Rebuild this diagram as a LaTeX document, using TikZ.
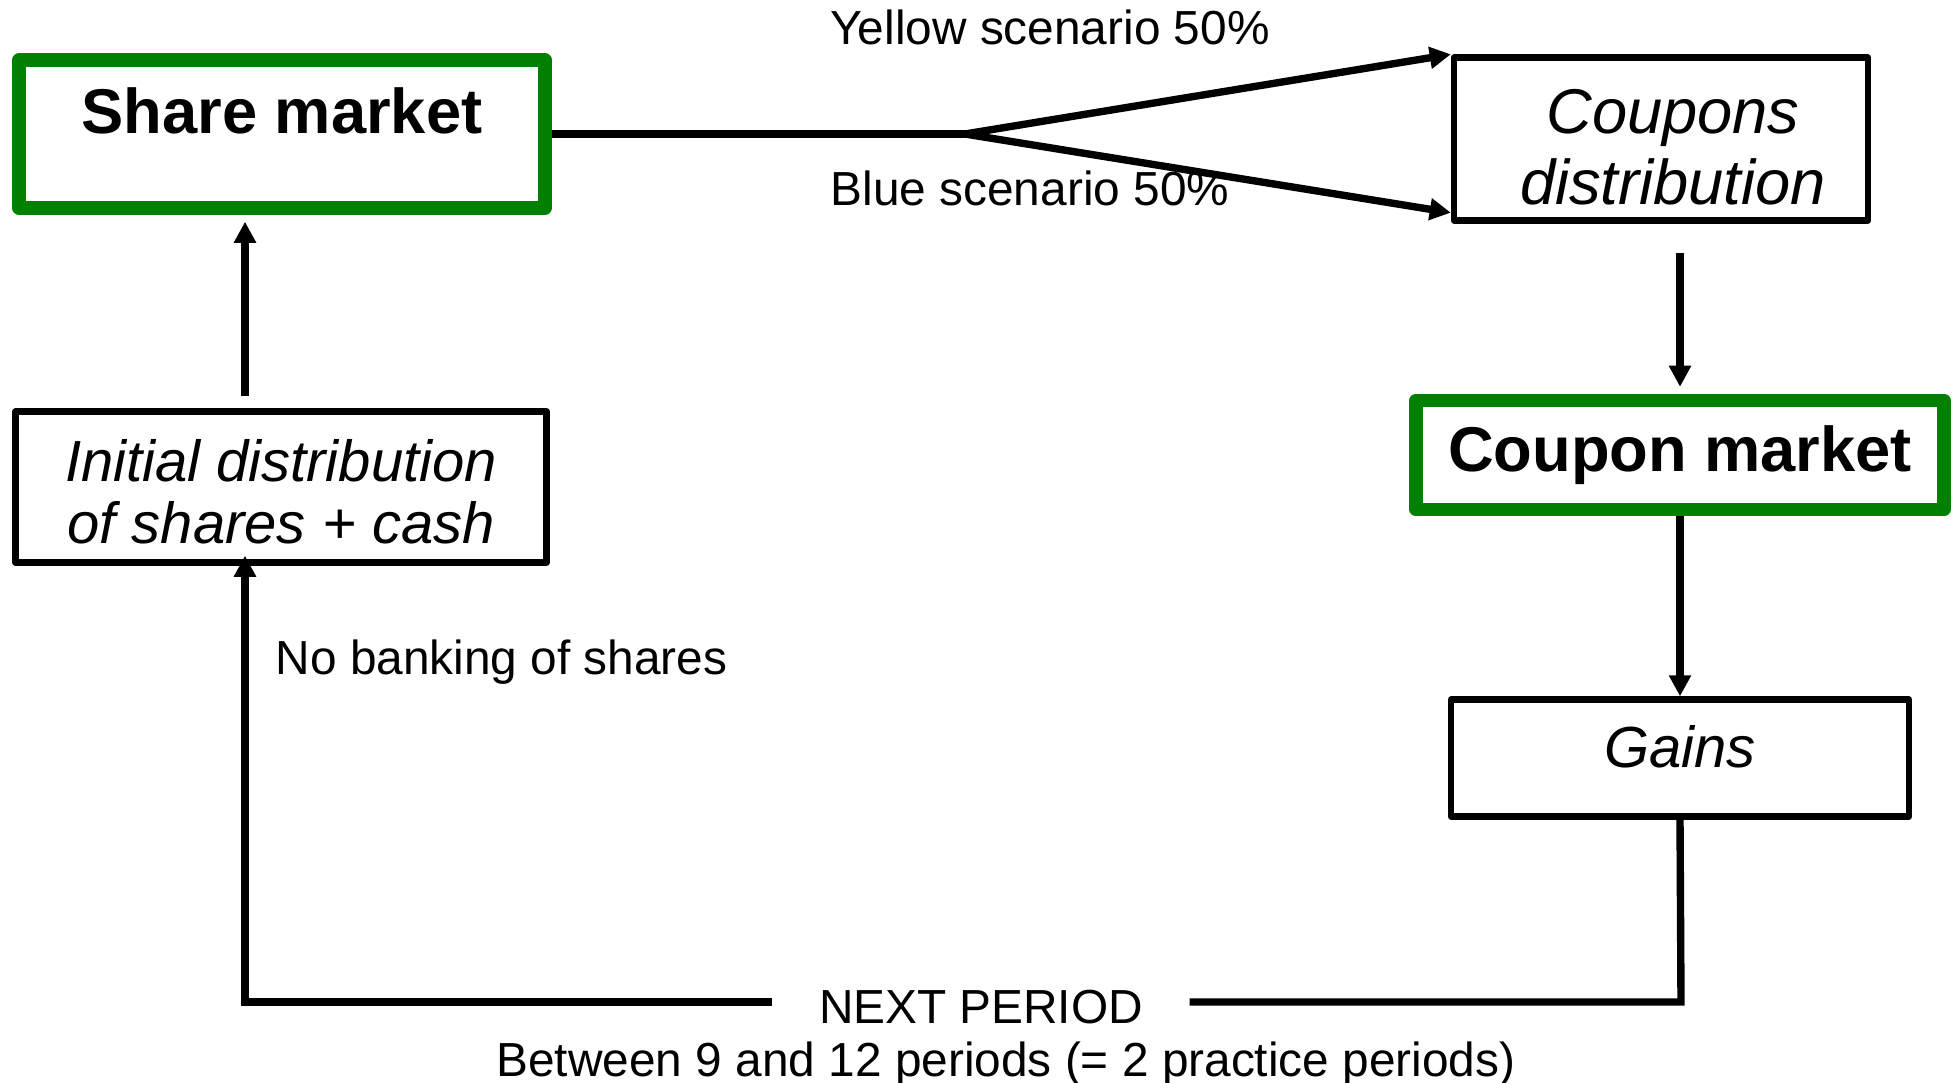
\documentclass[tikz,border=0pt]{standalone}
\usepackage{fontspec}
\setmainfont{Liberation Sans}
\usepackage{tikz}
\usetikzlibrary{positioning}
\usetikzlibrary{calc}
\usetikzlibrary{arrows.meta}
\definecolor{mkgreen}{RGB}{0,128,0}
\tikzset{myboxMkt/.style={draw=mkgreen, line width=3.8pt, line join=round, fill=white, font=\fontsize{18}{21}\selectfont\bfseries}}
\tikzset{myboxStg/.style={draw, line width=1.8pt, line join=round, fill=white, align=center, font=\fontsize{16.5}{17.6}\selectfont\itshape}}
\tikzset{myLbl/.style={font=\fontsize{13.6}{16}\selectfont, inner sep=0pt}}
\tikzset{myLine/.style={line width=2.1pt, >={Triangle[length=6pt,width=6pt]}}}

\begin{document}
\begin{tikzpicture}

\useasboundingbox (0,0) rectangle (19.57,-10.83);

\node[myboxMkt, minimum width=5.26cm, minimum height=1.48cm, text height=0.5cm, text depth=0.5cm] (share) at (2.82, -1.34) {Share market};
\node[myboxStg, minimum width=4.14cm, minimum height=1.63cm, font=\fontsize{18}{20.2}\selectfont\itshape] (coupons) at (16.61, -1.39) {\hspace*{2.4mm}\rule{0pt}{6mm}Coupons\\\hspace*{2.4mm}distribution};
\node[myboxStg, minimum width=5.31cm, minimum height=1.51cm] (initial) at (2.81, -4.87) {\rule{0pt}{5.1mm}Initial distribution\\of shares + cash};
\node[myboxMkt, minimum width=5.28cm, minimum height=1.09cm] (cmarket) at (16.80, -4.55) {Coupon market};
\node[myboxStg, minimum width=4.58cm, minimum height=1.17cm, text height=0.3cm, text depth=0.12cm] (gains) at (16.80, -7.58) {Gains};

\coordinate (split) at (9.65, -1.34);
\coordinate (lcorner) at (2.45, -10.02);
\coordinate (rcorner) at (16.81, -10.02);

\node[myLbl, anchor=base] (yellow) at (10.50, -0.45) {Yellow scenario 50\%};
\node[myLbl, anchor=base] (blue) at (10.30, -2.06) {Blue scenario 50\%};
\node[myLbl, anchor=base west] (nobank) at (2.75, -6.74) {No banking of shares};
\node[myLbl, anchor=base, inner xsep=0.46cm] (next) at (9.81, -10.23) {NEXT PERIOD};
\node[myLbl, anchor=base] (between) at (10.06, -10.76) {Between 9 and 12 periods (= 2 practice periods)};

% scenarios
\draw[myLine] (share.east) -- (split);
\draw[myLine, ->] (split) -- (coupons.north west);
\draw[myLine, ->] (split) -- ([yshift=1.1mm]coupons.south west);

\draw[myLine, ->] ($(coupons.south -| cmarket.north)+(0,-0.29)$) -- ([yshift=2pt]cmarket.north);
\draw[myLine, ->] (cmarket.south) -- (gains.north);
\draw[myLine, ->] ($(initial.north -| lcorner)+(0,0.12)$) -- ([yshift=-2pt]share.south -| lcorner);

% next period loop
\draw[myLine] (gains.south) -- (rcorner) -- (rcorner -| next.east);
\draw[myLine, ->] (lcorner -| next.west) -- (lcorner) -- ([yshift=1mm]initial.south -| lcorner);

\end{tikzpicture}
\end{document}
